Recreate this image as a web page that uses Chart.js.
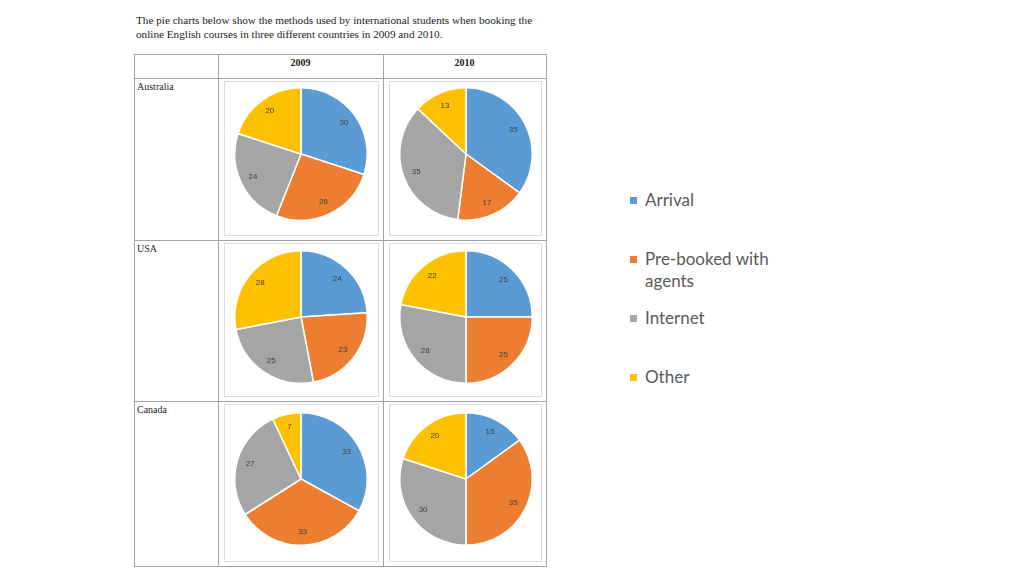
<!DOCTYPE html>
<html><head><meta charset="utf-8">
<script src="https://cdn.jsdelivr.net/npm/chart.js@4.4.1/dist/chart.umd.min.js"></script>
<style>
body{margin:0;width:1024px;height:576px;background:#fff;position:relative;overflow:hidden;font-family:'Liberation Serif','Times New Roman',serif;color:#222;}
#title{position:absolute;left:136px;top:14px;font-size:11.2px;line-height:13.5px;width:412px;color:#222;}
.hl{position:absolute;height:1px;background:#a3a3a3;}
.vl{position:absolute;width:1px;background:#a3a3a3;}
.box{position:absolute;border:1px solid #dcdcdc;box-sizing:border-box;}
.yr{position:absolute;font-weight:bold;font-size:10px;text-align:center;width:60px;}
.ctry{position:absolute;font-size:10px;}
#legend{position:absolute;left:630px;top:0;font-family:Lato,'Noto Sans',sans-serif;font-size:17px;color:#595959;}
.sw{position:absolute;left:0;width:7px;height:7px;}
.lt{position:absolute;left:15px;white-space:nowrap;line-height:22px;}
</style></head><body>
<div id="title">The pie charts below show the methods used by international students when booking the online English courses in three different countries in 2009 and 2010.</div>
<div id="grid"></div>
<div id="legend"></div>
<script>
const categories = ['Arrival', 'Pre-booked with agents', 'Internet', 'Other'];
const countries = ['Australia', 'USA', 'Canada'];
const years = ['2009', '2010'];
const australia2009 = [30, 26, 24, 20];
const australia2010 = [35, 17, 35, 13];
const usa2009 = [24, 23, 25, 28];
const usa2010 = [25, 25, 28, 22];
const canada2009 = [33, 33, 27, 7];
const canada2010 = [15, 35, 30, 20];
const seriesByCountry = [[australia2009, australia2010], [usa2009, usa2010], [canada2009, canada2010]];
const colors = ['#5B9BD5', '#ED7D31', '#A5A5A5', '#FFC000'];

// table geometry
const colX = [134, 218, 383, 546];
const rowY = [54, 78, 240, 401, 566];
const grid = document.getElementById('grid');
function add(cls, css, text) {
  const d = document.createElement('div');
  d.className = cls;
  Object.assign(d.style, css);
  if (text !== undefined) d.textContent = text;
  grid.appendChild(d);
  return d;
}
rowY.forEach(y => add('hl', {left: colX[0] + 'px', top: y + 'px', width: (colX[3] - colX[0] + 1) + 'px'}));
colX.forEach(x => add('vl', {left: x + 'px', top: rowY[0] + 'px', height: (rowY[4] - rowY[0] + 1) + 'px'}));
years.forEach((y, i) => {
  const cx = (colX[i + 1] + colX[i + 2]) / 2;
  add('yr', {left: (cx - 30) + 'px', top: '57px'}, y);
});
countries.forEach((c, r) => add('ctry', {left: '137px', top: (rowY[r + 1] + 3) + 'px'}, c));

const labelPlugin = {
  id: 'sliceLabels',
  afterDatasetsDraw(chart) {
    const ctx = chart.ctx;
    const meta = chart.getDatasetMeta(0);
    ctx.save();
    ctx.font = '8px "Liberation Sans", Arial, sans-serif';
    ctx.fillStyle = '#404040';
    ctx.textAlign = 'center';
    ctx.textBaseline = 'middle';
    meta.data.forEach((arc, i) => {
      const p = arc.getProps(['x', 'y', 'startAngle', 'endAngle', 'outerRadius'], true);
      const a = (p.startAngle + p.endAngle) / 2;
      const rr = p.outerRadius * 0.8;
      ctx.fillText(String(chart.data.datasets[0].data[i]), p.x + Math.cos(a) * rr, p.y + Math.sin(a) * rr);
    });
    ctx.restore();
  }
};

const size = 136;
seriesByCountry.forEach((pair, r) => {
  pair.forEach((vals, c) => {
    const x0 = colX[c + 1], x1 = colX[c + 2], y0 = rowY[r + 1], y1 = rowY[r + 2];
    add('box', {left: (x0 + 6) + 'px', top: (y0 + 3) + 'px', width: (x1 - x0 - 10) + 'px', height: (y1 - y0 - 7) + 'px'});
    const cx = c === 0 ? 301 : 465.5;
    const cy = [154, 316.5, 479][r];
    const cv = document.createElement('canvas');
    cv.width = size; cv.height = size;
    cv.style.cssText = `position:absolute;left:${cx - size / 2}px;top:${cy - size / 2}px;width:${size}px;height:${size}px;`;
    grid.appendChild(cv);
    new Chart(cv, {
      type: 'pie',
      data: {labels: categories, datasets: [{data: vals, backgroundColor: colors, borderColor: '#ffffff', borderWidth: 1.5}]},
      options: {
        responsive: false, animation: false, events: [],
        layout: {padding: 1},
        plugins: {legend: {display: false}, tooltip: {enabled: false}}
      },
      plugins: [labelPlugin]
    });
  });
});

// legend
const legend = document.getElementById('legend');
const legendY = [200, 259, 318, 377];
categories.forEach((cat, i) => {
  const sw = document.createElement('div');
  sw.className = 'sw';
  sw.style.top = (legendY[i] - 3) + 'px';
  sw.style.background = colors[i];
  legend.appendChild(sw);
  const t = document.createElement('div');
  t.className = 'lt';
  t.style.top = (legendY[i] - 11) + 'px';
  t.innerHTML = cat === 'Pre-booked with agents' ? 'Pre-booked with<br>agents' : cat;
  legend.appendChild(t);
});
</script>
</body></html>
